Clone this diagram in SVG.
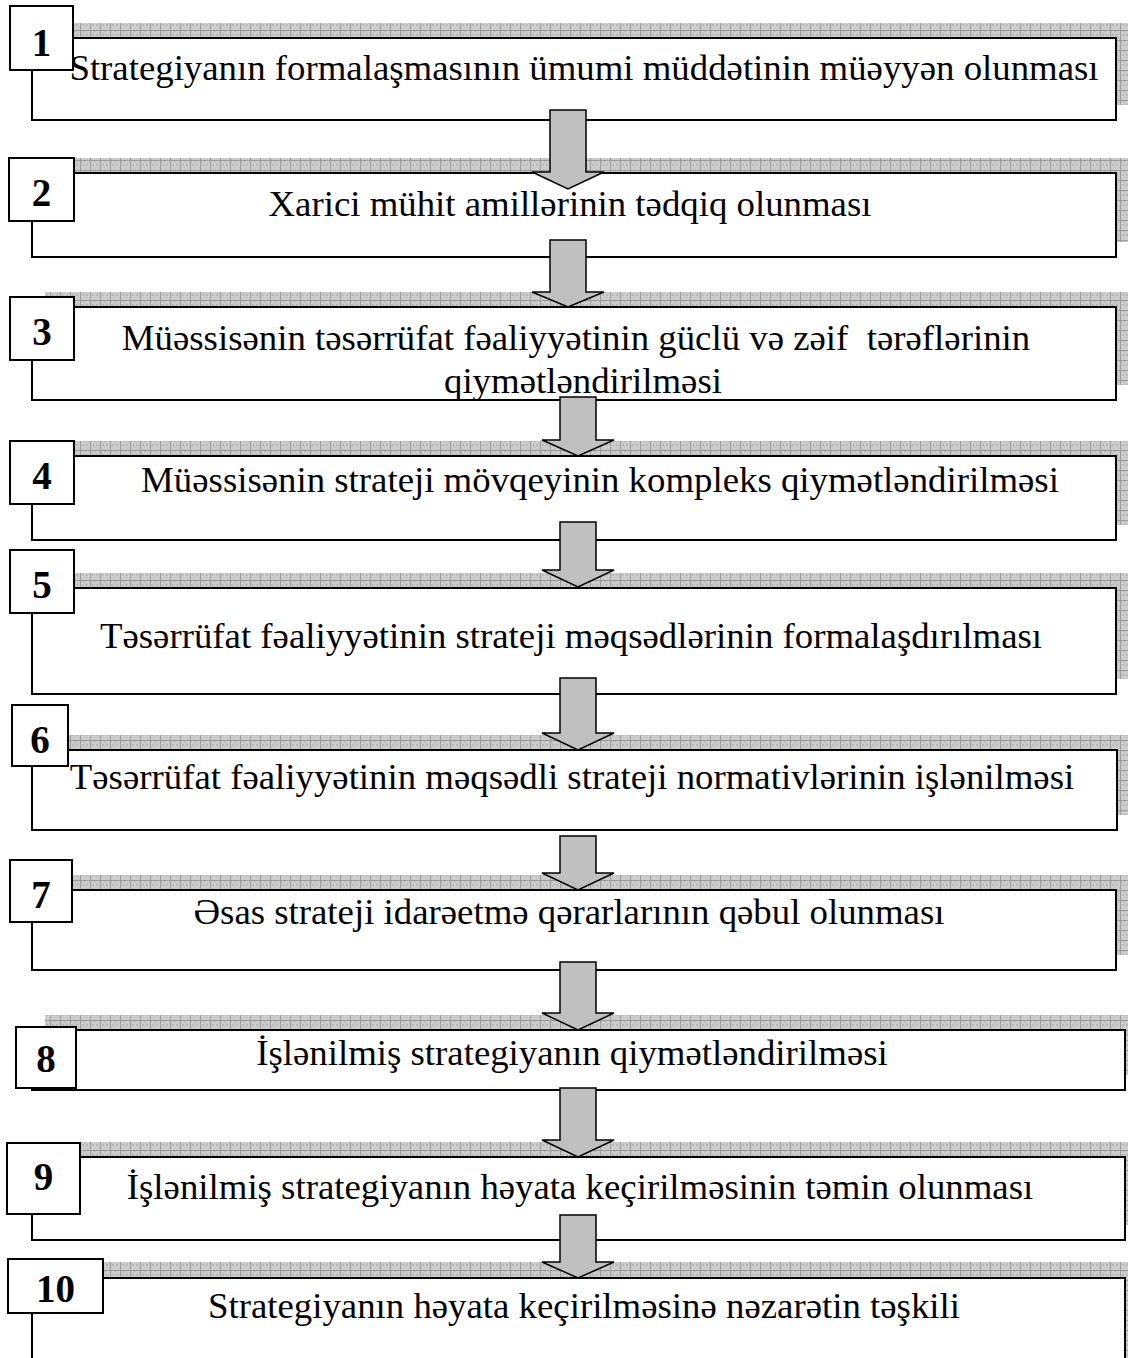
<svg xmlns="http://www.w3.org/2000/svg" width="1128" height="1358" viewBox="0 0 1128 1358">
<defs>
<pattern id="hatch" width="10" height="10" patternUnits="userSpaceOnUse">
<rect width="10" height="10" fill="#cbcbcb"/>
<rect x="0" y="0" width="2" height="2" fill="#b9b9b9"/><rect x="4" y="0" width="2" height="2" fill="#b9b9b9"/><rect x="2" y="4" width="2" height="2" fill="#b9b9b9"/><rect x="6" y="4" width="2" height="2" fill="#b9b9b9"/>
<path d="M0 0.5H10M0.5 0V10" stroke="#9c9c9c" stroke-width="1"/>
</pattern>
</defs>
<style>
.sh{fill:url(#hatch);stroke:none}
.bx{fill:#fff;stroke:#000;stroke-width:2}
.nb{fill:#fff;stroke:#000;stroke-width:2}
.t{font-family:"Liberation Serif","Times New Roman",serif;font-size:36.8px;fill:#000;text-anchor:middle}
.n{font-family:"Liberation Serif","Times New Roman",serif;font-size:39px;font-weight:bold;fill:#000;text-anchor:middle}
.ar{fill:#c0c0c0;stroke:#000;stroke-width:1.5;stroke-linejoin:miter}
</style>
<rect width="1128" height="1358" fill="#fff"/>

<g id="node1">
<rect class="sh" x="45" y="23" width="1090" height="82"/>
<rect class="bx" x="32" y="38" width="1084" height="82"/>
<text class="t" x="584" y="80">Strategiyanın formalaşmasının ümumi müddətinin müəyyən olunması</text>
<rect class="nb" x="10" y="6" width="63" height="64"/>
<text class="n" x="41.5" y="56">1</text>
</g>

<g id="node2">
<rect class="sh" x="45" y="158" width="1090" height="84"/>
<rect class="bx" x="32" y="173" width="1084" height="84"/>
<text class="t" x="570" y="216">Xarici mühit amillərinin tədqiq olunması</text>
<rect class="nb" x="9" y="158" width="65" height="63"/>
<text class="n" x="41.5" y="206">2</text>
</g>

<g id="node3">
<rect class="sh" x="45" y="292" width="1090" height="93"/>
<rect class="bx" x="32" y="307" width="1084" height="93"/>
<text class="t" x="576" y="350">Müəssisənin təsərrüfat fəaliyyətinin güclü və zəif&#160; tərəflərinin</text>
<text class="t" x="583" y="393">qiymətləndirilməsi</text>
<rect class="nb" x="10" y="297" width="64" height="63"/>
<text class="n" x="42" y="345">3</text>
</g>

<g id="node4">
<rect class="sh" x="45" y="441" width="1090" height="84"/>
<rect class="bx" x="32" y="456" width="1084" height="84"/>
<text class="t" x="600" y="492">Müəssisənin strateji mövqeyinin kompleks qiymətləndirilməsi</text>
<rect class="nb" x="10" y="441" width="64" height="63"/>
<text class="n" x="42" y="489">4</text>
</g>

<g id="node5">
<rect class="sh" x="45" y="573" width="1090" height="106"/>
<rect class="bx" x="32" y="588" width="1084" height="106"/>
<text class="t" x="571" y="648">Təsərrüfat fəaliyyətinin strateji məqsədlərinin formalaşdırılması</text>
<rect class="nb" x="10" y="550" width="64" height="63"/>
<text class="n" x="42" y="598">5</text>
</g>

<g id="node6">
<rect class="sh" x="45" y="735" width="1090" height="80"/>
<rect class="bx" x="32" y="750" width="1085" height="80"/>
<text class="t" x="572" y="789">Təsərrüfat fəaliyyətinin məqsədli strateji normativlərinin işlənilməsi</text>
<rect class="nb" x="12" y="705" width="56" height="61"/>
<text class="n" x="40" y="753">6</text>
</g>

<g id="node7">
<rect class="sh" x="45" y="875" width="1090" height="80"/>
<rect class="bx" x="32" y="890" width="1084" height="80"/>
<text class="t" x="569" y="924">Əsas strateji idarəetmə qərarlarının qəbul olunması</text>
<rect class="nb" x="10" y="860" width="62" height="62"/>
<text class="n" x="41" y="908">7</text>
</g>

<g id="node8">
<rect class="sh" x="45" y="1015" width="1095" height="60"/>
<rect class="bx" x="32" y="1030" width="1093" height="60"/>
<text class="t" x="572" y="1065">İşlənilmiş strategiyanın qiymətləndirilməsi</text>
<rect class="nb" x="16" y="1027" width="60" height="61"/>
<text class="n" x="46" y="1072">8</text>
</g>

<g id="node9">
<rect class="sh" x="45" y="1142" width="1095" height="83"/>
<rect class="bx" x="32" y="1157" width="1093" height="83"/>
<text class="t" x="580" y="1199">İşlənilmiş strategiyanın həyata keçirilməsinin təmin olunması</text>
<rect class="nb" x="7" y="1143" width="73" height="71"/>
<text class="n" x="43.5" y="1190">9</text>
</g>

<g id="node10">
<rect class="sh" x="45" y="1262" width="1095" height="110"/>
<rect class="bx" x="32" y="1278" width="1093" height="110"/>
<text class="t" x="584" y="1318">Strategiyanın həyata keçirilməsinə nəzarətin təşkili</text>
<rect class="nb" x="8" y="1259" width="95" height="54"/>
<text class="n" x="55.5" y="1302">10</text>
</g>

<g id="connectors">
<path class="ar" d="M550 110H586V172H604L568 189L532 172H550Z"/>
<path class="ar" d="M550 240H586V292H604L568 307L532 292H550Z"/>
<path class="ar" d="M560 397H596V440H614L578 456L542 440H560Z"/>
<path class="ar" d="M560 522H596V570H614L578 587L542 570H560Z"/>
<path class="ar" d="M560 678H596V733H614L578 750L542 733H560Z"/>
<path class="ar" d="M560 836H596V873H614L578 890L542 873H560Z"/>
<path class="ar" d="M560 962H596V1013H614L578 1030L542 1013H560Z"/>
<path class="ar" d="M560 1088H596V1140H614L578 1157L542 1140H560Z"/>
<path class="ar" d="M560 1215H596V1262H614L578 1278L542 1262H560Z"/>
</g>
</svg>
